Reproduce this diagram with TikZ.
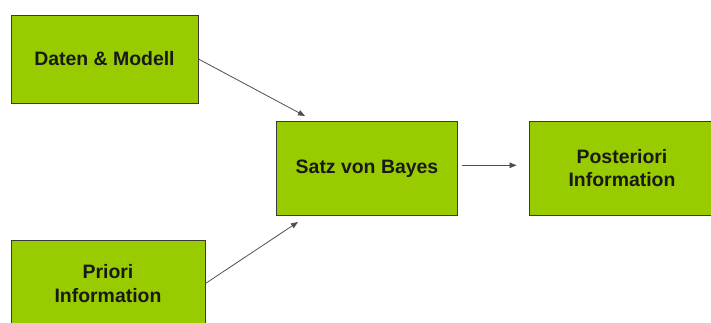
\documentclass[tikz,border=0pt]{standalone}
\usepackage{fontspec}
\setmainfont{Liberation Sans}
\usetikzlibrary{arrows.meta,calc}
\definecolor{boxgreen}{HTML}{99CC00}
\definecolor{edgegray}{HTML}{3A3A3A}
\begin{document}
\begin{tikzpicture}[x=1bp,y=-1bp,
  gbox/.style={draw=edgegray, line width=0.9bp, fill=boxgreen, inner sep=0pt,
    align=center, font=\fontsize{19.5}{23.5}\selectfont\bfseries, text=black!90},
  conn/.style={draw=edgegray!90, line width=0.8bp, -{Triangle[length=7bp,width=5.5bp]}}]
\useasboundingbox (0,0) rectangle (711,322);
\clip (0,0) rectangle (711,322);
\node[gbox, minimum width=187bp, minimum height=88bp] (daten) at (104.5,59) {Daten \& Modell};
\node[gbox, minimum width=194bp, minimum height=86bp] (priori) at (108,283.5) {Priori\\Information};
\node[gbox, minimum width=180.6bp, minimum height=93.3bp] (satz) at (367,168.3) {Satz von Bayes};
\node[gbox, minimum width=186bp, minimum height=93.3bp] (post) at (622,168.3) {Posteriori\\Information};
\coordinate (t1) at (305,116);
\coordinate (t2) at (298,222);
\draw[conn] (daten.east) -- (t1);
\draw[conn] (priori.east) -- (t2);
\draw[conn] ([xshift=4bp,yshift=3bp]satz.east) -- ([xshift=-12bp,yshift=3bp]post.west);
\end{tikzpicture}
\end{document}
